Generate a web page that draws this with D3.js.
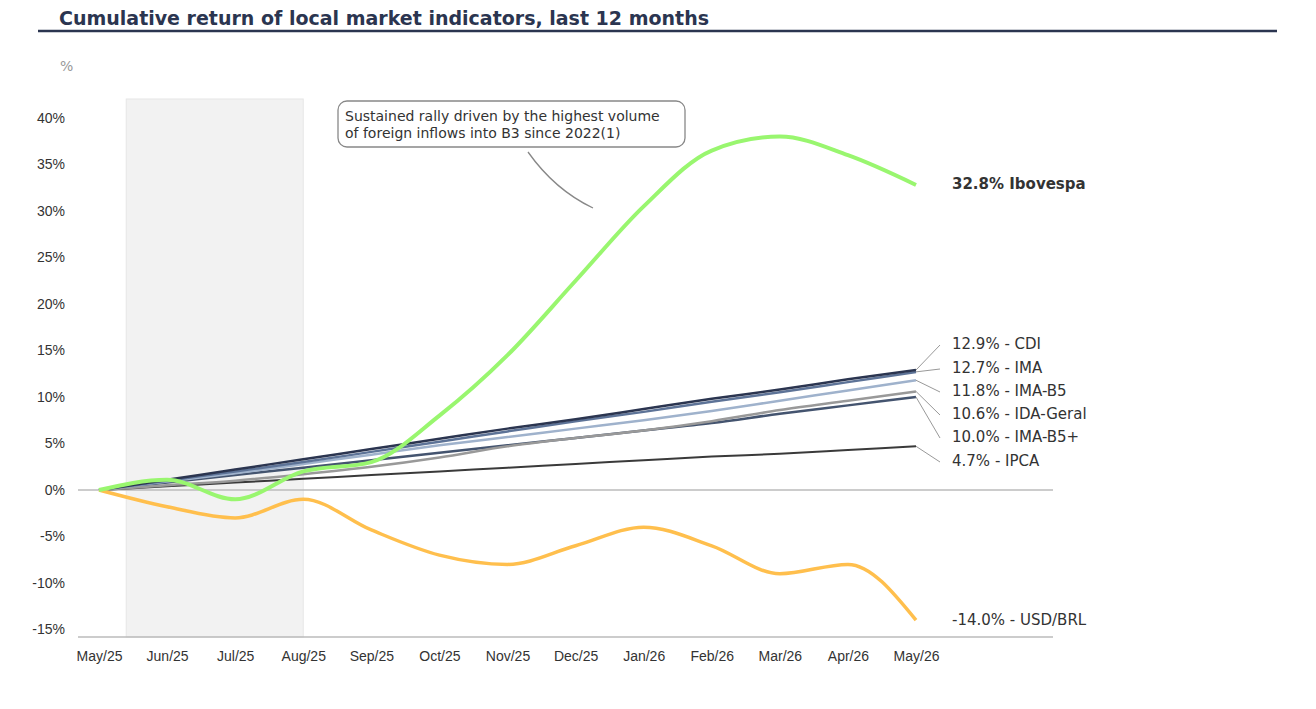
<!DOCTYPE html>
<html><head><meta charset="utf-8">
<script src="https://cdn.jsdelivr.net/npm/d3@7"></script>
<style>body{margin:0;background:#fff;font-family:"DejaVu Sans",sans-serif}</style>
</head><body><div id="chart"></div>
<script>
var months = ["May/25","Jun/25","Jul/25","Aug/25","Sep/25","Oct/25","Nov/25","Dec/25","Jan/26","Feb/26","Mar/26","Apr/26","May/26"];
var ibov = [0,1.1,-1,2,3,8,14.5,22.5,30.5,36.5,38,36,32.8];
var usd = [0,-1.8,-3,-1,-4.3,-7,-8,-6,-4,-6,-9,-8,-14];
var cdi = [0,1.1,2.2,3.3,4.4,5.5,6.6,7.6,8.7,9.8,10.8,11.9,12.9];
var ima = [0,1.0,2.0,3.0,4.1,5.2,6.3,7.4,8.4,9.5,10.5,11.6,12.7];
var imab5 = [0,0.9,1.8,2.8,3.8,4.8,5.7,6.6,7.5,8.5,9.6,10.7,11.8];
var ida = [0,0.5,1.0,1.7,2.5,3.5,4.7,5.6,6.4,7.4,8.6,9.6,10.6];
var imab5p = [0,0.8,1.6,2.4,3.2,4.0,4.8,5.6,6.4,7.2,8.2,9.1,10.0];
var ipca = [0,0.4,0.8,1.2,1.6,2.0,2.4,2.8,3.2,3.6,3.9,4.3,4.7];
var yTicks = [-15,-10,-5,0,5,10,15,20,25,30,35,40];

var series = [
  {name:"IPCA", v:ipca, c:"#3a3a3a", w:2, label:"4.7% - IPCA", ly:461},
  {name:"IMA-B5+", v:imab5p, c:"#44546f", w:2.5, label:"10.0% - IMA-B5+", ly:437},
  {name:"IDA-Geral", v:ida, c:"#999999", w:2.5, label:"10.6% - IDA-Geral", ly:414},
  {name:"IMA-B5", v:imab5, c:"#9fb2cc", w:2.5, label:"11.8% - IMA-B5", ly:391},
  {name:"IMA", v:ima, c:"#5d7397", w:2.5, label:"12.7% - IMA", ly:368},
  {name:"CDI", v:cdi, c:"#2b3550", w:2.5, label:"12.9% - CDI", ly:344},
  {name:"USD/BRL", v:usd, c:"#ffbf4d", w:3.5, label:"-14.0% - USD/BRL", ly:620, nolead:true},
  {name:"Ibovespa", v:ibov, c:"#99f66f", w:4, label:"32.8%  Ibovespa", ly:184, nolead:true, bold:true}
];

var svg = d3.select("#chart").append("svg").attr("width",1316).attr("height",709);
var x = d3.scalePoint().domain(months).range([99,916]);
var y = d3.scaleLinear().domain([-15,40]).range([629.5,118]);

svg.append("text").attr("x",59).attr("y",25).attr("font-size",19).attr("font-weight","bold")
  .attr("fill","#2b3550").text("Cumulative return of local market indicators, last 12 months");
svg.append("line").attr("x1",38).attr("x2",1277).attr("y1",31).attr("y2",31).attr("stroke","#2b3550").attr("stroke-width",2.5);
svg.append("text").attr("x",60).attr("y",71).attr("font-size",14).attr("fill","#999").text("%");

// shaded period
var step = x.step();
svg.append("rect").attr("x",x("May/25")+step*0.4).attr("y",99)
  .attr("width",x("Aug/25")-x("May/25")-step*0.4).attr("height",538)
  .attr("fill","#f2f2f2").attr("stroke","#e6e6e6");

svg.append("g").attr("transform","translate(78,0)")
  .call(d3.axisLeft(y).tickValues(yTicks).tickFormat(function(d){return d+"%";}).tickSize(0).tickPadding(13))
  .call(function(g){g.select(".domain").remove();})
  .selectAll("text").attr("font-size",14).attr("fill","#333");

svg.append("line").attr("x1",78).attr("x2",1053).attr("y1",y(0)).attr("y2",y(0)).attr("stroke","#bbb").attr("stroke-width",1.5);
svg.append("g").attr("transform","translate(0,637)")
  .call(d3.axisBottom(x).tickSize(0).tickPadding(14))
  .call(function(g){g.select(".domain").attr("d","M78,0H1053").attr("stroke","#bbb").attr("stroke-width",1.5);})
  .selectAll("text").attr("font-size",14).attr("fill","#333");

var line = d3.line().x(function(d,i){return x(months[i]);}).y(function(d){return y(d);}).curve(d3.curveMonotoneX);
series.forEach(function(s){
  svg.append("path").attr("d",line(s.v)).attr("fill","none").attr("stroke",s.c).attr("stroke-width",s.w);
  var endY = y(s.v[s.v.length-1]);
  if(!s.nolead){
    svg.append("line").attr("x1",916).attr("y1",endY).attr("x2",940).attr("y2",s.ly+1).attr("stroke","#999").attr("stroke-width",1);
  }
  svg.append("text").attr("x",952).attr("y",s.ly).attr("dy","0.35em").attr("font-size",15)
    .attr("font-weight",s.bold?"bold":"normal").attr("fill","#333").text(s.label);
});

// annotation
svg.append("path").attr("d","M528,152 Q555,190 593,208").attr("fill","none").attr("stroke","#888").attr("stroke-width",1.3);
svg.append("rect").attr("x",338).attr("y",101).attr("width",347).attr("height",46).attr("rx",9)
  .attr("fill","#fff").attr("stroke","#888").attr("stroke-width",1.3);
svg.append("text").attr("x",345).attr("y",121).attr("font-size",14).attr("fill","#333").text("Sustained rally driven by the highest volume");
svg.append("text").attr("x",345).attr("y",138).attr("font-size",14).attr("fill","#333").text("of foreign inflows into B3 since 2022(1)");
</script></body></html>
